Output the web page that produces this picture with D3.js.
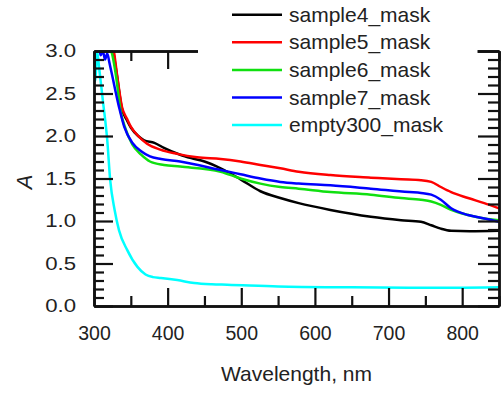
<!DOCTYPE html>
<html><head><meta charset="utf-8">
<script src="https://cdn.jsdelivr.net/npm/d3@7"></script>
<style>body{margin:0;background:#fff}svg{display:block}text{font-family:"Liberation Sans",Arial,sans-serif;fill:#222}</style>
</head><body>
<svg id="c" width="501" height="394"></svg>
<script>
const seriesNames = ["sample4_mask","sample5_mask","sample6_mask","sample7_mask","empty300_mask"];
const seriesColors = ["#000000","#ff0000","#10e010","#0000ff","#00ffff"];
const xTicks = [300,400,500,600,700,800];
const yTicks = [0.0,0.5,1.0,1.5,2.0,2.5,3.0];
// [wavelength nm, A]
const sample4 = [[300,3.4],[320,3.2],[326,3.0],[331,2.72],[338,2.32],[345,2.18],[350,2.1],[360,2.0],[368,1.95],[382,1.92],[395,1.86],[417,1.78],[432,1.74],[450,1.70],[472,1.62],[499,1.49],[526,1.35],[553,1.27],[578,1.21],[621,1.13],[676,1.05],[717,1.01],[744,0.99],[758,0.95],[771,0.91],[785,0.885],[810,0.88],[850,0.885]];
const sample5 = [[300,3.4],[320,3.2],[327,3.0],[331,2.74],[338,2.34],[345,2.2],[350,2.11],[360,2.0],[372,1.91],[390,1.84],[413,1.79],[440,1.75],[472,1.73],[499,1.70],[526,1.66],[553,1.62],[578,1.58],[621,1.54],[676,1.51],[717,1.49],[744,1.48],[758,1.46],[771,1.40],[785,1.34],[808,1.27],[830,1.21],[850,1.15]];
const sample6 = [[300,3.3],[318,3.1],[325,2.95],[330,2.7],[336,2.3],[343,2.08],[352,1.9],[364,1.78],[376,1.70],[395,1.66],[417,1.64],[472,1.58],[499,1.50],[526,1.44],[553,1.40],[578,1.38],[621,1.34],[676,1.31],[717,1.27],[744,1.25],[758,1.23],[771,1.19],[785,1.13],[808,1.07],[830,1.03],[850,1.01]];
const sample7 = [[300,3.3],[306,3.1],[309,2.95],[312,3.0],[315,2.9],[318,2.97],[321,2.86],[324,2.74],[334,2.34],[341,2.11],[352,1.92],[364,1.82],[376,1.76],[391,1.73],[417,1.70],[472,1.60],[499,1.55],[526,1.50],[553,1.46],[578,1.44],[621,1.42],[676,1.38],[728,1.34],[744,1.33],[758,1.31],[771,1.25],[785,1.15],[808,1.07],[830,1.03],[850,0.99]];
const empty300 = [[300,3.3],[302,2.65],[304,3.0],[307,2.8],[312,2.42],[318,1.95],[322,1.48],[328,1.13],[334,0.89],[345,0.66],[359,0.46],[370,0.37],[380,0.34],[391,0.33],[413,0.305],[436,0.27],[460,0.255],[481,0.25],[550,0.23],[650,0.22],[750,0.215],[790,0.215],[850,0.22]];
const allSeries = [sample4,sample5,sample6,sample7,empty300];

const svg = d3.select("#c");
const L=94, R=499, T=51, B=306;
const x = d3.scaleLinear().domain([300,850]).range([L,R]);
const y = d3.scaleLinear().domain([0,3]).range([B,T]);

svg.append("defs").append("clipPath").attr("id","clip")
  .append("rect").attr("x",L).attr("y",T).attr("width",R-L).attr("height",B-T);

const line = d3.line().x(d=>x(d[0])).y(d=>y(d[1])).curve(d3.curveMonotoneX);
const g = svg.append("g").attr("clip-path","url(#clip)");
allSeries.forEach((s,i)=>{
  g.append("path").datum(s).attr("d",line).attr("fill","none")
    .attr("stroke",seriesColors[i]).attr("stroke-width",2.5).attr("stroke-linejoin","round");
});

const minorX = d3.range(350,851,100);
const minorY = d3.range(0,3.01,0.1).filter(v=>Math.abs(v*2-Math.round(v*2))>1e-6);
function styleAxis(sel){
  sel.selectAll("path,line").attr("stroke","#111").attr("stroke-width",2.2);
  sel.select(".domain").attr("stroke-width",2.4);
}
// bottom
const bx = svg.append("g").attr("transform",`translate(0,${B})`)
  .call(d3.axisBottom(x).tickValues(xTicks).tickSize(-18).tickSizeOuter(0).tickPadding(20).tickFormat(d3.format("d")));
bx.selectAll("text").attr("font-size",19.5).attr("dy","0.71em").attr("fill","#222");
styleAxis(bx);
const bxm = svg.append("g").attr("transform",`translate(0,${B})`)
  .call(d3.axisBottom(x).tickValues(minorX).tickSize(-10).tickSizeOuter(0).tickFormat(""));
styleAxis(bxm);
// top
const tx = svg.append("g").attr("transform",`translate(0,${T})`)
  .call(d3.axisTop(x).tickValues(xTicks).tickSize(-18).tickSizeOuter(0).tickFormat(""));
styleAxis(tx);
const txm = svg.append("g").attr("transform",`translate(0,${T})`)
  .call(d3.axisTop(x).tickValues(minorX).tickSize(-10).tickSizeOuter(0).tickFormat(""));
styleAxis(txm);
// left
const yLabScale = 1.2;
const ly = svg.append("g").attr("transform",`translate(${L},0)`)
  .call(d3.axisLeft(y).tickValues(yTicks).tickSize(-19).tickSizeOuter(0).tickPadding(18).tickFormat(d3.format(".1f")));
ly.selectAll("text").attr("font-size",18.5).attr("fill","#222")
  .attr("x",-18/yLabScale).attr("transform",`scale(${yLabScale},1)`);
styleAxis(ly);
const lym = svg.append("g").attr("transform",`translate(${L},0)`)
  .call(d3.axisLeft(y).tickValues(minorY).tickSize(-10).tickSizeOuter(0).tickFormat(""));
styleAxis(lym);
// right
const ry = svg.append("g").attr("transform",`translate(${R},0)`)
  .call(d3.axisRight(y).tickValues(yTicks).tickSize(-21).tickSizeOuter(0).tickFormat(""));
styleAxis(ry);
const rym = svg.append("g").attr("transform",`translate(${R},0)`)
  .call(d3.axisRight(y).tickValues(minorY).tickSize(-11).tickSizeOuter(0).tickFormat(""));
styleAxis(rym);

// axis titles
svg.append("text").attr("x",(L+R)/2).attr("y",381).attr("text-anchor","middle")
  .attr("font-size",21).text("Wavelength, nm");
svg.append("text").attr("transform","translate(32,182) rotate(-90)").attr("text-anchor","middle")
  .attr("font-size",22).attr("font-style","italic").text("A");

// legend
const lg = svg.append("g");
lg.append("rect").attr("x",198).attr("y",0).attr("width",279.5).attr("height",140).attr("fill","#fff");
const ly0 = 14.7, lstep = 27.6;
seriesNames.forEach((n,i)=>{
  const yy = ly0 + i*lstep;
  lg.append("line").attr("x1",232).attr("x2",282).attr("y1",yy).attr("y2",yy)
    .attr("stroke",seriesColors[i]).attr("stroke-width",2.5);
  lg.append("text").attr("x",289).attr("y",yy+7).attr("font-size",21).text(n);
});
</script>
</body></html>
